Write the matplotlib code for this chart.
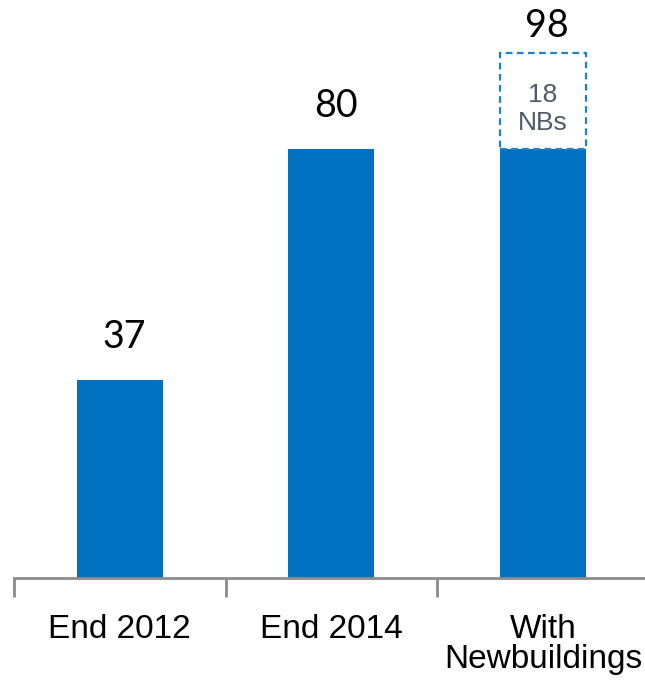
import matplotlib.pyplot as plt

categories = ['End 2012', 'End 2014', 'With\nNewbuildings']
fleet = [37, 80, 80]
newbuildings = [0, 0, 18]
totals = [37, 80, 98]

fig = plt.figure(figsize=(6.45, 6.84), dpi=100)
ax = fig.add_axes([0.0217, 0.155, 0.984, 0.845])

x = list(range(len(categories)))
ax.bar(x, fleet, width=0.407, color='#0070C0', zorder=2)

# newbuildings on order drawn as an open dashed block on top of the fleet
nb_x = [i for i in x if newbuildings[i]]
ax.bar(nb_x, [newbuildings[i] for i in nb_x], width=0.407,
       bottom=[fleet[i] for i in nb_x], facecolor='none',
       edgecolor='#1F7FD0', linestyle=(0, (3, 2)), linewidth=1.6, zorder=3)

for i, t in enumerate(totals):
    off = 5.0 if newbuildings[i] else 8.0
    ax.text(i + 0.02, t + off, str(t), ha='center', va='center',
            fontsize=27, family='Lato', color='black')

for i in nb_x:
    ax.text(i, fleet[i] + newbuildings[i] / 2 - 1.5, f'{newbuildings[i]}\nNBs',
            ha='center', va='center', fontsize=19, family='Liberation Sans',
            color='#4D5B69', linespacing=1.2)

ax.set_xlim(-0.5, 2.5)
ax.set_ylim(0, 107.8)
ax.set_xticks([-0.5, 0.5, 1.5, 2.5])
ax.set_xticklabels([])
ax.set_xticks(x, categories, minor=True)
ax.tick_params(axis='x', which='major', length=14, width=2, color='#8C8C8C',
               direction='out')
ax.tick_params(axis='x', which='minor', length=0, pad=26,
               labelsize=24, labelfontfamily='Liberation Sans')
for lbl in ax.get_xticklabels(minor=True):
    lbl.set_linespacing(0.95)
ax.set_yticks([])
for side in ['top', 'right', 'left']:
    ax.spines[side].set_visible(False)
ax.spines['bottom'].set_color('#8C8C8C')
ax.spines['bottom'].set_linewidth(2)

fig.savefig('out.png', dpi=100)
